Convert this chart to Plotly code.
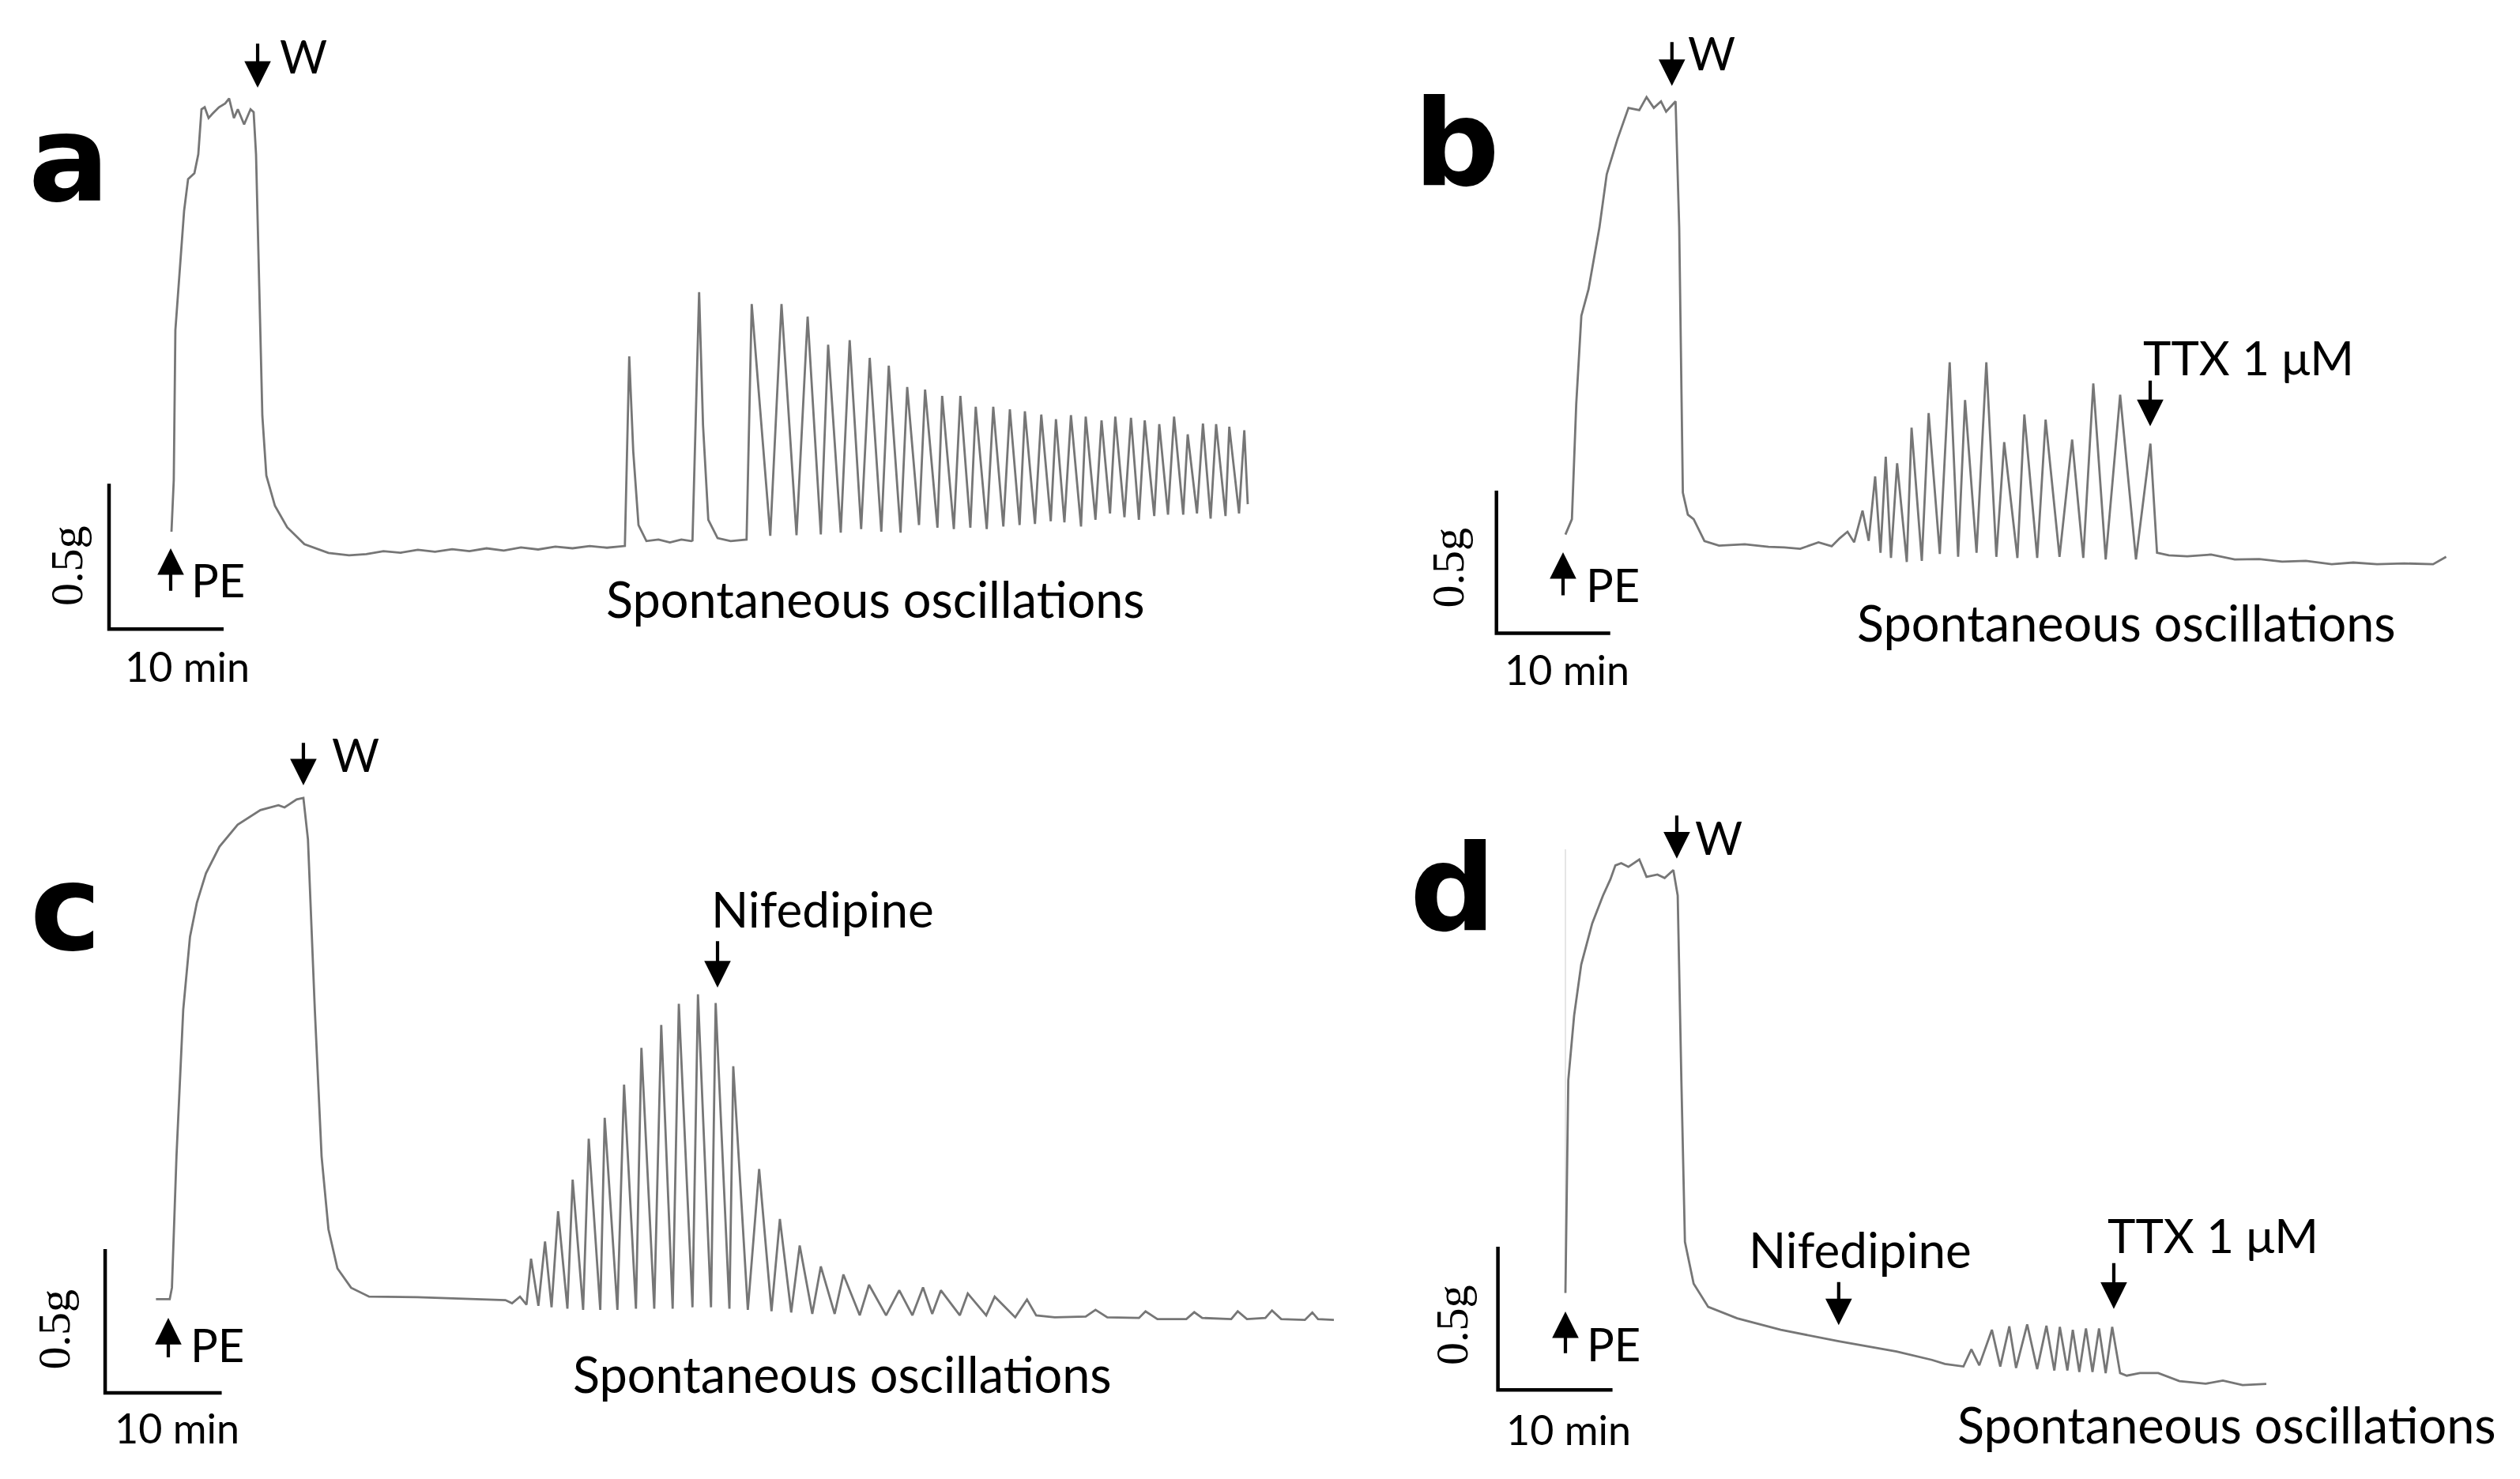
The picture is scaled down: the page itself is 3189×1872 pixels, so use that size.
"""
Isometric tension recordings: PE contraction, washout and spontaneous oscillations (panels a-d).
"""

import plotly.graph_objects as go

W, H = 3189, 1872
TRACE = "#767676"
FONT = "Lato"

# ---------------------------------------------------------------------------
# Panel a  (time in min from PE, tension in g above resting baseline)
# ---------------------------------------------------------------------------
a_pe_t = [0, 0.2, 0.34, 0.76, 1.10, 1.45, 2.0, 2.34, 2.62, 2.9, 3.24, 3.59, 4.14, 4.69, 5.03,
          5.45, 5.79, 6.34, 6.9, 7.17, 7.38, 7.66, 7.93, 8.28, 9.03, 10.1, 11.6, 13.7, 15.5]
a_pe_g = [0.057, 0.235, 0.75, 0.97, 1.16, 1.27, 1.29, 1.355, 1.51, 1.517, 1.48, 1.495, 1.517, 1.53, 1.547,
          1.48, 1.51, 1.458, 1.51, 1.50, 1.355, 0.90, 0.456, 0.25, 0.146, 0.072, 0.014, -0.016, -0.024]

a_rest_t = [17, 18.5, 20, 21.5, 23, 24.5, 26, 27.5, 29, 30.5, 32, 33.5, 35, 36.5, 38, 39.3,
            39.57, 39.95, 40.30, 40.76, 41.45, 42.5, 43.5, 44.5, 45.36, 45.47, 46.05, 46.39,
            46.85, 47.66, 48.8, 50.19]
a_rest_g = [-0.02, -0.01, -0.015, -0.005, -0.012, -0.003, -0.01, 0.0, -0.008, 0.003, -0.004, 0.006,
            0.0, 0.008, 0.002, 0.008,
            0.008, 0.66, 0.334, 0.080, 0.025, 0.03, 0.02, 0.03, 0.025, 0.027, 0.881, 0.424,
            0.098, 0.035, 0.025, 0.030]

a_osc_t = [50.64, 52.26, 53.24, 54.55, 55.52, 56.67, 57.31, 58.41, 59.19, 60.19, 60.94, 61.95,
           62.60, 63.63, 64.21, 65.24, 65.77, 66.85, 67.26, 68.28, 68.85, 69.72, 70.19, 71.15,
           71.72, 72.6, 73.17, 74.02, 74.48, 75.36, 75.91, 76.74, 77.19, 77.93, 78.5, 79.38,
           79.79, 80.64, 81.17, 81.91, 82.37, 83.17, 83.74, 84.43, 84.94, 85.77, 86.21, 86.97,
           87.5, 88.3, 88.69, 89.5, 90.02, 90.69, 91.17, 91.99, 92.32, 93.17, 93.63, 93.93]
a_osc_g = [0.840, 0.043, 0.840, 0.045, 0.797, 0.048, 0.700, 0.054, 0.716, 0.066, 0.655, 0.057,
           0.628, 0.054, 0.555, 0.080, 0.546, 0.071, 0.524, 0.066, 0.524, 0.071, 0.487, 0.066,
           0.487, 0.075, 0.478, 0.080, 0.471, 0.084, 0.460, 0.093, 0.444, 0.089, 0.458, 0.075,
           0.453, 0.098, 0.440, 0.120, 0.453, 0.107, 0.449, 0.098, 0.440, 0.111, 0.427, 0.116,
           0.453, 0.116, 0.392, 0.120, 0.429, 0.102, 0.427, 0.111, 0.418, 0.120, 0.406, 0.152]

# ---------------------------------------------------------------------------
# Panel b
# ---------------------------------------------------------------------------
b_pe_t = [0, 0.57, 0.95, 1.40, 2.03, 2.99, 3.63, 4.58, 5.54, 6.49, 7.13, 7.77, 8.40, 8.85, 9.68,
          10.0, 10.32, 10.76, 11.27, 12.22, 13.5, 15.76, 17.85]
b_pe_g = [0.039, 0.093, 0.496, 0.806, 0.899, 1.116, 1.302, 1.426, 1.535, 1.527, 1.573, 1.535, 1.558,
          1.522, 1.558, 1.116, 0.186, 0.109, 0.093, 0.016, 0.0, 0.005, -0.004]

b_osc_t = [19.24, 20.63, 22.24, 23.40, 24.10, 24.79, 25.37, 26.11, 26.65, 27.22, 27.69, 28.15,
           28.61, 29.15, 30.0, 30.42, 31.32, 31.92, 32.90, 33.77, 34.51, 35.12, 36.13, 36.99,
           37.87, 38.56, 39.72, 40.33, 41.46, 42.20, 43.42, 44.53, 45.51, 46.39, 47.48, 48.75,
           50.14, 51.41, 51.99, 53.03]
b_osc_g = [-0.006, -0.011, 0.012, -0.002, 0.026, 0.049, 0.012, 0.123, 0.017, 0.243, -0.025, 0.312,
           -0.043, 0.289, -0.057, 0.414, -0.053, 0.465, -0.029, 0.643, -0.039, 0.511, -0.025, 0.643,
           -0.039, 0.363, -0.043, 0.460, -0.043, 0.442, -0.039, 0.372, -0.043, 0.569, -0.048, 0.529,
           -0.048, 0.358, -0.025, -0.034]

b_ttx_t = [54.65, 56.74, 58.82, 60.97, 62.99, 65.07, 67.34, 69.24, 71.32, 73.71, 76.25, 77.40]
b_ttx_g = [-0.037, -0.031, -0.048, -0.047, -0.056, -0.053, -0.065, -0.059, -0.065, -0.062, -0.065, -0.039]

# ---------------------------------------------------------------------------
# Panel c
# ---------------------------------------------------------------------------
c_pe_t = [-1.06, 0.12, 0.31, 0.70, 1.28, 1.86, 2.45, 3.23, 4.39, 5.95, 7.90, 9.45, 9.97, 11.01,
          11.59, 11.98, 12.57, 13.15, 13.74, 14.51, 15.68, 17.23, 21.36, 25.42, 28.92, 29.49,
          30.17, 30.73]
c_pe_g = [-0.004, -0.004, 0.036, 0.493, 1.003, 1.256, 1.375, 1.477, 1.570, 1.646, 1.697, 1.714,
          1.706, 1.734, 1.739, 1.595, 1.002, 0.493, 0.239, 0.103, 0.036, 0.005, 0.003, -0.003,
          -0.007, -0.018, 0.005, -0.023]

c_osc_t = [31.12, 31.75, 32.32, 32.88, 33.44, 34.24, 34.69, 35.59, 36.07, 37.06, 37.44, 38.53,
           39.10, 40.12, 40.59, 41.69, 42.29, 43.27, 43.80, 44.97, 45.44, 46.56, 46.96, 48.14,
           48.47, 49.72, 50.69, 51.75, 52.47, 53.44, 54.17, 55.25, 55.98, 57.17, 57.92, 59.32,
           60.12, 61.58, 62.71, 63.84, 64.75, 65.54, 66.28, 67.91, 68.59, 70.17, 70.90, 72.66,
           73.67, 74.46]
c_osc_g = [0.137, -0.027, 0.197, -0.032, 0.302, -0.037, 0.412, -0.041, 0.554, -0.041, 0.627, -0.041,
           0.742, -0.037, 0.870, -0.037, 0.950, -0.037, 1.023, -0.032, 1.056, -0.032, 1.026, -0.037,
           0.806, -0.041, 0.449, -0.046, 0.275, -0.050, 0.183, -0.055, 0.110, -0.055, 0.082, -0.060,
           0.046, -0.060, 0.027, -0.060, 0.037, -0.055, 0.027, -0.060, 0.016, -0.060, 0.005, -0.067,
           -0.005, -0.060]

c_tail_t = [76.05, 78.71, 79.55, 80.56, 83.28, 83.84, 84.86, 87.34, 88.02, 88.70, 91.19, 91.75,
            92.54, 94.12, 94.69, 95.48, 97.51, 98.15, 98.64, 100.0]
c_tail_g = [-0.067, -0.064, -0.041, -0.067, -0.069, -0.046, -0.073, -0.073, -0.049, -0.069, -0.073,
            -0.046, -0.073, -0.069, -0.043, -0.073, -0.076, -0.050, -0.073, -0.076]

# ---------------------------------------------------------------------------
# Panel d
# ---------------------------------------------------------------------------
d_pe_t = [0, 0.25, 0.76, 1.38, 2.34, 3.28, 3.92, 4.36, 4.87, 5.50, 6.45, 7.08, 8.03, 8.66, 9.42,
          9.80, 10.12, 10.43, 11.19, 12.46, 14.99, 18.79, 23.85, 28.9, 31.98, 33.12, 34.74]
d_pe_g = [0, 0.742, 0.968, 1.146, 1.290, 1.387, 1.443, 1.492, 1.500, 1.487, 1.513, 1.452, 1.460,
          1.448, 1.476, 1.387, 0.742, 0.178, 0.032, -0.049, -0.089, -0.129, -0.169, -0.205,
          -0.234, -0.248, -0.257]

d_osc_t = [35.43, 36.12, 37.22, 37.95, 38.74, 39.33, 40.30, 41.17, 41.98, 42.67, 43.15, 43.81,
           44.28, 44.85, 45.43, 46.0, 46.57, 47.15, 47.72, 48.41]
d_osc_g = [-0.197, -0.253, -0.129, -0.257, -0.117, -0.262, -0.110, -0.266, -0.115, -0.271, -0.119,
           -0.271, -0.129, -0.276, -0.124, -0.276, -0.124, -0.280, -0.119, -0.280]

d_ttx_t = [48.99, 50.14, 51.74, 53.59, 55.88, 57.38, 59.1, 61.17]
d_ttx_g = [-0.289, -0.280, -0.280, -0.308, -0.317, -0.306, -0.322, -0.318]

# ---------------------------------------------------------------------------
# Layout calibration: panel domain and where t=0 / g=0 sit on the page (px)
# ---------------------------------------------------------------------------
PANELS = {
    "a": dict(axis="", dx=(0.0, 0.52), dy=(0.5, 1.0), x0=209, y0=686, ppm=14.5, ppg=368),
    "b": dict(axis="2", dx=(0.53, 1.0), dy=(0.5, 1.0), x0=1973, y0=682.7, ppm=14.4, ppg=361),
    "c": dict(axis="3", dx=(0.0, 0.545), dy=(0.0, 0.5), x0=205, y0=1635, ppm=14.75, ppg=364),
    "d": dict(axis="4", dx=(0.545, 1.0), dy=(0.0, 0.5), x0=1973, y0=1628.4, ppm=14.5, ppg=362.6),
}

SCALE_MIN = 10
SCALE_G = 0.5

fig = go.Figure()
layout_axes = {}
for key, p in PANELS.items():
    xr = [(p["dx"][0] * W - p["x0"]) / p["ppm"], (p["dx"][1] * W - p["x0"]) / p["ppm"]]
    yr = [(p["y0"] - (1 - p["dy"][0]) * H) / p["ppg"], (p["y0"] - (1 - p["dy"][1]) * H) / p["ppg"]]
    layout_axes["xaxis" + p["axis"]] = dict(domain=list(p["dx"]), range=xr, visible=False,
                                            anchor="y" + p["axis"])
    layout_axes["yaxis" + p["axis"]] = dict(domain=list(p["dy"]), range=yr, visible=False,
                                            anchor="x" + p["axis"])


def _refs(key):
    n = PANELS[key]["axis"]
    return "x" + n, "y" + n


def add_trace(key, t, g, color=TRACE, width=2.8):
    xr, yr = _refs(key)
    fig.add_trace(go.Scatter(x=t, y=g, mode="lines", xaxis=xr, yaxis=yr,
                             line=dict(color=color, width=width), hoverinfo="skip"))


def add_scalebar(key, t, g):
    xr, yr = _refs(key)
    fig.add_trace(go.Scatter(x=[t, t, t + SCALE_MIN], y=[g + SCALE_G, g, g], mode="lines",
                             xaxis=xr, yaxis=yr, line=dict(color="black", width=4.5),
                             hoverinfo="skip"))


annotations = []


def label(key, t, g, text, size=58, family=FONT, yshift=9, **kw):
    xr, yr = _refs(key)
    annotations.append(dict(x=t, y=g, xref=xr, yref=yr, text=text, showarrow=False,
                            xanchor="center", yanchor="middle", yshift=yshift,
                            font=dict(family=family, size=size, color="black"), **kw))


def arrow(key, t, tip, tail):
    xr, yr = _refs(key)
    annotations.append(dict(x=t, y=tip, ax=t, ay=tail, xref=xr, yref=yr, axref=xr, ayref=yr,
                            text="", showarrow=True, arrowhead=2, arrowsize=1.6,
                            arrowwidth=4.2, arrowcolor="black", standoff=0))


def panel_letter(key, t, g, text):
    label(key, t, g, "<b>%s</b>" % text, size=152, family="DejaVu Sans", yshift=14)


def half_g(key, t, g):
    # vertical scale-bar caption, set a little left of the bar
    label(key, t, g, "0.5g", size=58, family="Liberation Serif", yshift=0, xshift=-8,
          textangle=-90)


# panel a
add_trace("a", a_pe_t + a_rest_t + a_osc_t, a_pe_g + a_rest_g + a_osc_g)
add_scalebar("a", -5.45, -0.278)
panel_letter("a", -8.9, 1.30, "a")
arrow("a", 7.52, 1.584, 1.74)
label("a", 11.5, 1.671, "W")
arrow("a", -0.07, 0.0, -0.15)
label("a", 4.07, -0.133, "PE")
half_g("a", -8.62, -0.06)
label("a", 1.38, -0.429, "10 min", size=52)
label("a", 61.45, -0.197, "Spontaneous oscillations", size=63)

# panel b
add_trace("b", b_pe_t + b_osc_t + b_ttx_t, b_pe_g + b_osc_g + b_ttx_g)
add_scalebar("b", -6.06, -0.307)
panel_letter("b", -9.58, 1.373, "b")
arrow("b", 9.36, 1.612, 1.77)
label("b", 12.85, 1.705, "W")
arrow("b", -0.21, -0.023, -0.178)
label("b", 4.17, -0.161, "PE")
half_g("b", -9.75, -0.078)
label("b", 0.125, -0.457, "10 min", size=52)
arrow("b", 51.39, 0.419, 0.583)
label("b", 60.0, 0.636, "TTX 1 μM", size=60)
label("b", 49.3, -0.294, "Spontaneous oscillations", size=63)

# panel c
add_trace("c", c_pe_t + c_osc_t + c_tail_t, c_pe_g + c_osc_g + c_tail_g)
add_scalebar("c", -5.42, -0.330)
panel_letter("c", -8.81, 1.316, "c")
arrow("c", 11.59, 1.783, 1.935)
label("c", 16.07, 1.866, "W")
arrow("c", 0.0, -0.069, -0.21)
label("c", 4.2, -0.185, "PE")
half_g("c", -9.23, -0.109)
label("c", 0.77, -0.474, "10 min", size=52)
arrow("c", 47.12, 1.080, 1.245)
label("c", 56.14, 1.330, "Nifedipine", size=62)
label("c", 57.8, -0.286, "Spontaneous oscillations", size=63)

# panel d
add_trace("d", [0, 0], [0, 1.548], color="#dddddd", width=1.5)
add_trace("d", d_pe_t + d_osc_t + d_ttx_t, d_pe_g + d_osc_g + d_ttx_g)
add_scalebar("d", -5.89, -0.339)
panel_letter("d", -9.86, 1.372, "d")
arrow("d", 9.72, 1.516, 1.67)
label("d", 13.38, 1.565, "W")
arrow("d", 0.0, -0.065, -0.215)
label("d", 4.23, -0.202, "PE")
half_g("d", -9.38, -0.112)
label("d", 0.25, -0.50, "10 min", size=52)
arrow("d", 23.85, -0.113, 0.042)
label("d", 25.72, 0.129, "Nifedipine", size=62)
arrow("d", 47.86, -0.056, 0.108)
label("d", 56.55, 0.178, "TTX 1 μM", size=60)
label("d", 57.7, -0.484, "Spontaneous oscillations", size=63)

fig.update_layout(
    width=W, height=H,
    margin=dict(l=0, r=0, t=0, b=0),
    paper_bgcolor="white", plot_bgcolor="rgba(0,0,0,0)",
    showlegend=False,
    annotations=annotations,
    **layout_axes,
)

fig.write_html("out.html")
